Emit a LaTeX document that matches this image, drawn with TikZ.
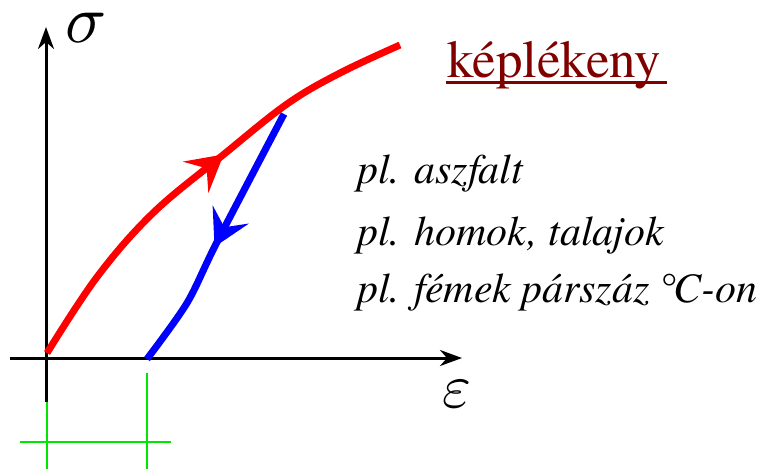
\documentclass[tikz,border=0pt]{standalone}
\usepackage{fontspec}
\newfontfamily\termes{texgyretermes}[Extension=.otf,UprightFont=*-regular,ItalicFont=*-italic,BoldFont=*-bold,BoldItalicFont=*-bolditalic]
\usetikzlibrary{arrows.meta,decorations.markings}
\definecolor{darkred}{RGB}{128,0,0}
\definecolor{brgreen}{RGB}{0,230,0}
\tikzset{
  axis/.style={line width=3pt,black},
  gline/.style={line width=2pt,brgreen},
  curve/.style={line width=7pt},
  ex/.style={anchor=base west,inner sep=0pt,font=\termes\fontsize{42}{48}\selectfont\itshape},
  midarrow/.style={postaction={decorate},decoration={markings,mark=at position #1 with {\arrow{Stealth[length=36pt,width=40pt,inset=14pt]}}}},
}
\begin{document}
\begin{tikzpicture}[x=1pt,y=-1pt]
\useasboundingbox (0,0) rectangle (770,469);
% green markers
\draw[gline] (47,373) -- (47,469);
\draw[gline] (147,373) -- (147,469);
\draw[gline] (20,442) -- (171,442);
% axes
\coordinate (xs) at (10,358);
\coordinate (xe) at (462,358);
\coordinate (yb) at (46,402);
\coordinate (ye) at (46,27);
\draw[axis,-{Stealth[length=22pt,width=16pt,inset=7pt]}] (xs) -- (xe);
\draw[axis,-{Stealth[length=22pt,width=16pt,inset=7pt]}] (yb) -- (ye);
\node[inner sep=0pt,scale=6.8] (sig) at (86,28) {$\sigma$};
\node[inner sep=0pt,scale=6.2] (eps) at (457,394) {$\varepsilon$};
% red loading curve
\draw[curve,red,midarrow=268pt]
  plot[smooth,tension=0.6] coordinates {(47,353) (97,277) (153,213) (223,155) (287,104) (340,73) (400,45)};
% blue unloading
\draw[curve,blue,midarrow=150pt]
  plot[smooth,tension=0.5] coordinates {(284,114) (217,242) (187,303) (147,359)};
% texts
\node[anchor=base west,inner sep=0pt,text=darkred,font=\termes\fontsize{53}{60}\selectfont] (title) at (447,77) {képlékeny};
\draw[darkred,line width=2.5pt] (446,82.5) -- (667,82.5);
\node[ex] (t1) at (357,183) {pl. aszfalt};
\node[ex] (t2) at (357,245) {pl. homok, talajok};
\node[ex] (t3) at (357,302) {pl. fémek párszáz °\kern-0.08em C-on};
\end{tikzpicture}
\end{document}
